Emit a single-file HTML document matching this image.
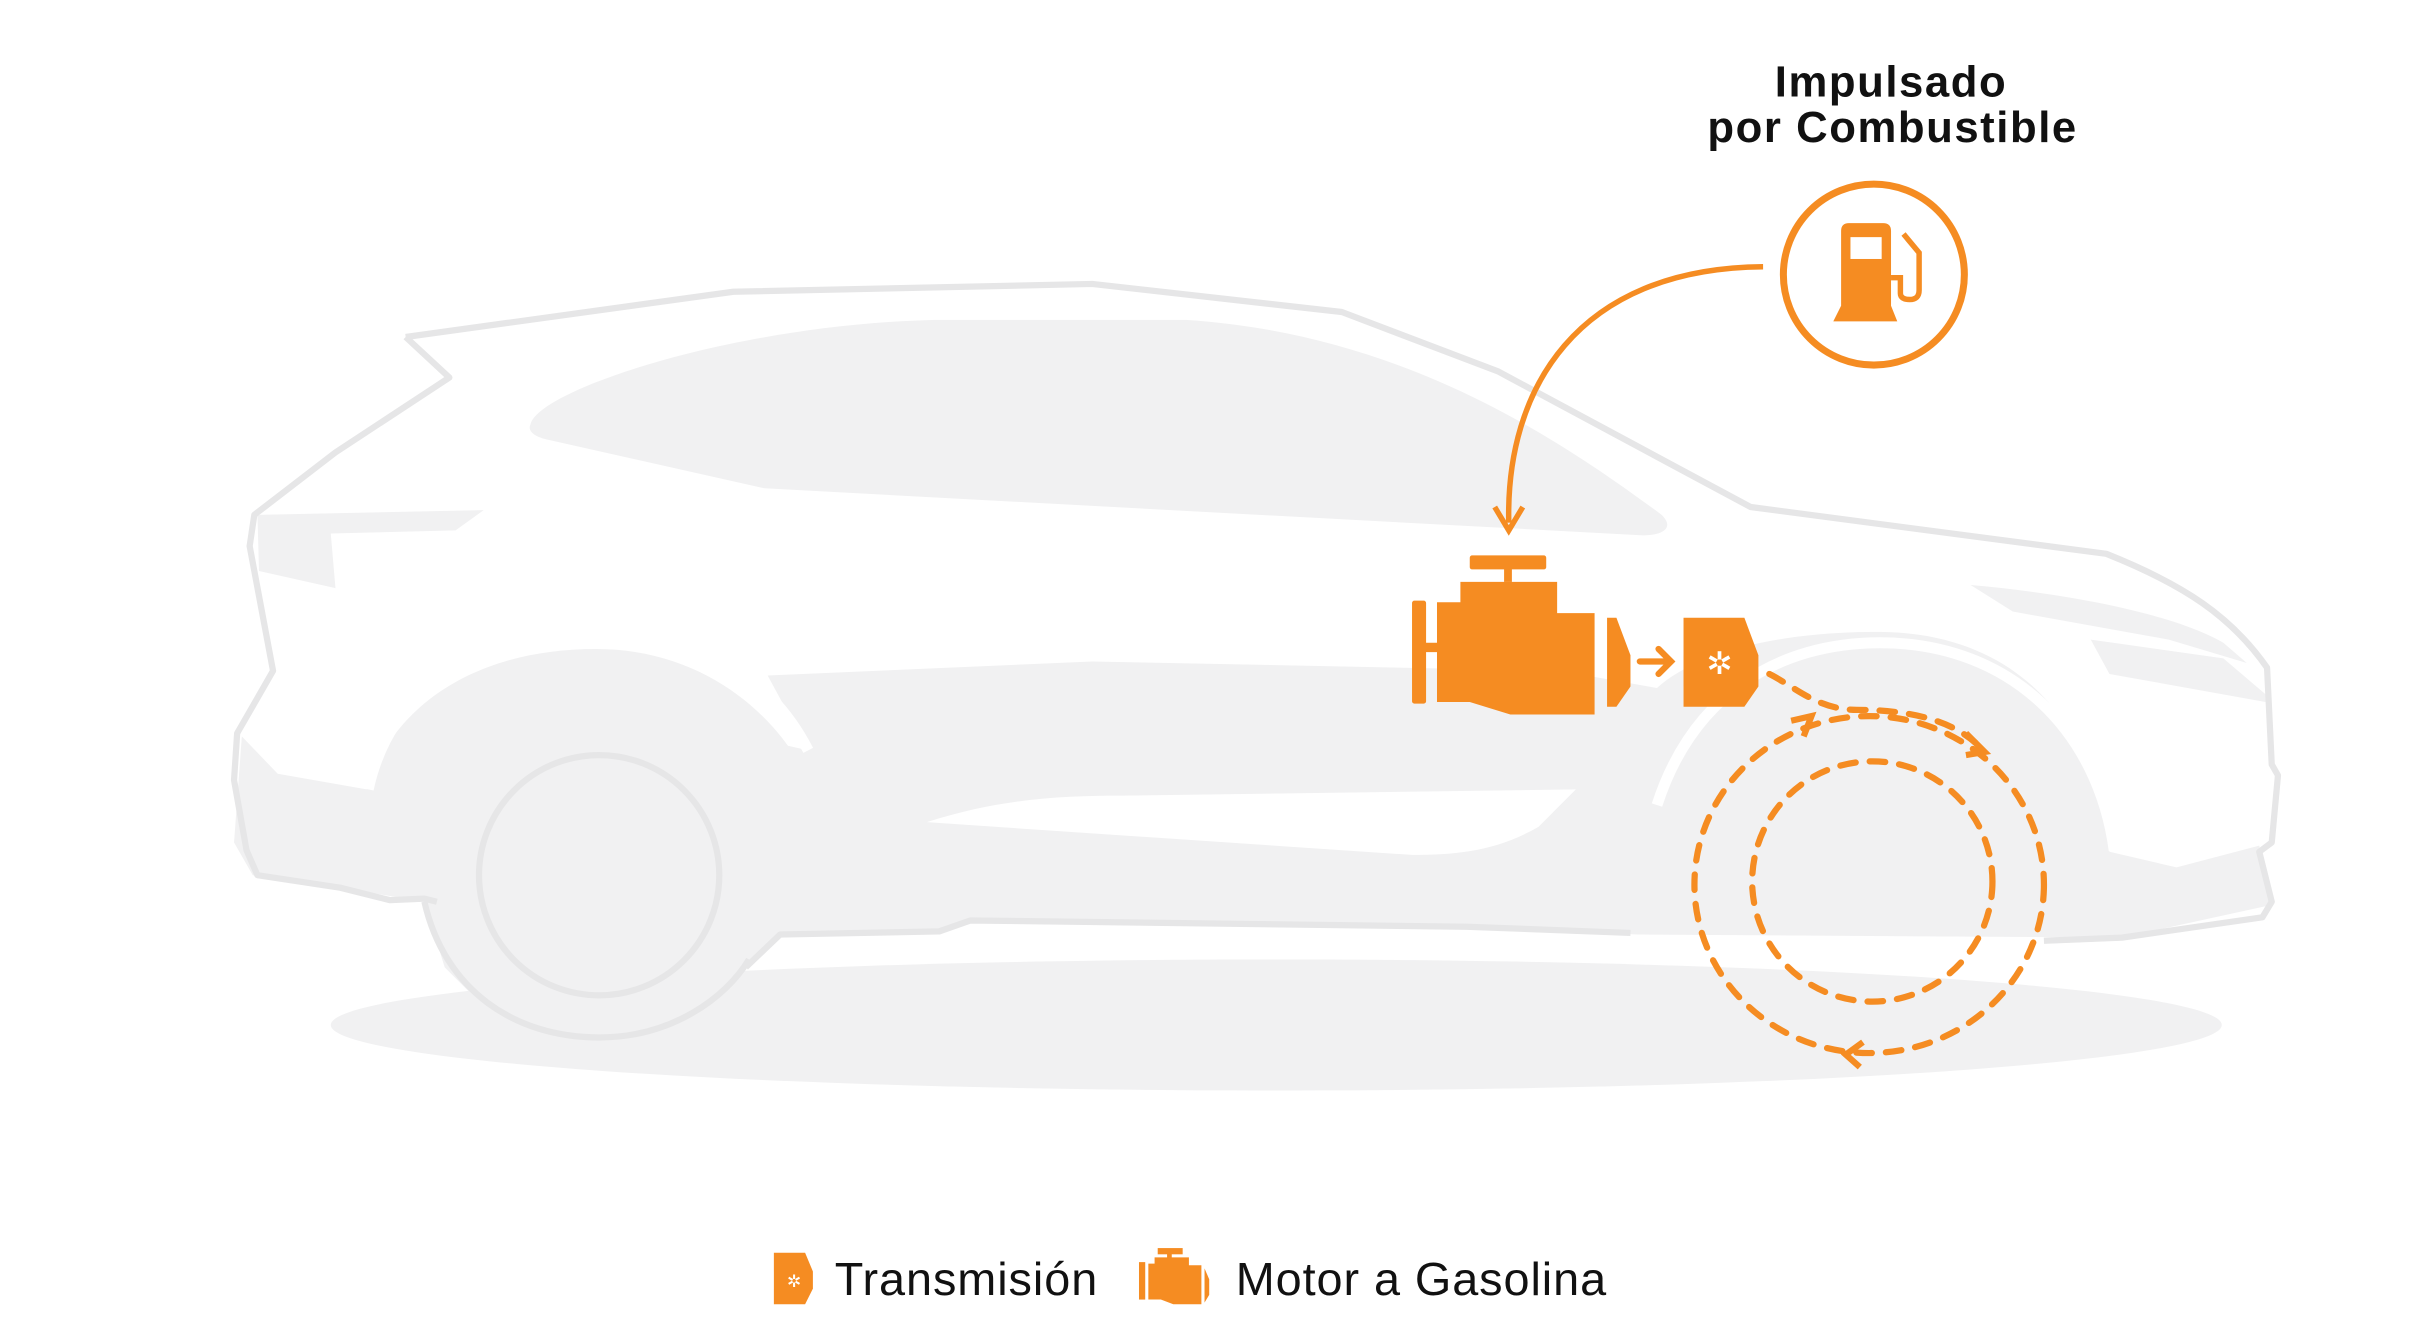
<!DOCTYPE html>
<html><head><meta charset="utf-8"><style>
html,body{margin:0;padding:0;background:#fff;}
svg{display:block;}
</style></head><body>
<svg width="2434" height="1337" viewBox="0 0 1560 857" preserveAspectRatio="none" xmlns="http://www.w3.org/2000/svg">
<rect width="1560" height="857" fill="#fff"/>
<ellipse cx="818" cy="657" rx="606" ry="42" fill="#f1f1f2"/>
<path d="M155,472 L178,496 L235,506 C252,452 305,416 382,416 C440,416 482,446 505,478 L518,481 L492,433 L700,424 L1000,430 L1062,441 C1085,420 1135,405 1203,405 C1292,405 1342,462 1352,546 L1395,556 L1448,542 L1456,580 L1360,601 L1050,599 L940,595 L622,590 L602,597 L500,599 L478,620 L440,655 L384,667 L320,655 L285,620 L272,578 L218,569 L162,561 L150,540 Z" fill="#f1f1f2"/>
<path d="M594,527 C640,512 680,510 720,510 L1010,506 L986,530 C960,545 935,548 905,548 Z" fill="#fff"/>
<path d="M1062,516 C1085,445 1140,412 1205,412 C1290,412 1345,470 1355,545" fill="none" stroke="#fff" stroke-width="7"/>
<path d="M236,506 C250,440 310,402 382,402 C440,402 492,430 518,481" fill="none" stroke="#fff" stroke-width="7"/>
<path d="M340,272 C345,250 470,208 600,205 L760,205 C900,214 1000,282 1065,330 C1075,340 1062,344 1050,343 L490,313 L352,282 C342,280 338,276 340,272 Z" fill="#f1f1f2"/>
<path d="M165,330 L310,327 L292,340 L212,342 L215,377 L166,366 Z" fill="#f1f1f2"/>
<path d="M1263,375 C1320,380 1390,392 1425,412 L1440,425 L1390,410 L1290,392 Z" fill="#f1f1f2"/>
<path d="M1340,410 L1425,422 L1452,445 L1452,450 L1352,432 Z" fill="#f1f1f2"/>
<path d="M260,216 L470,187 L700,182 L860,200 L960,238 L1122,325 L1350,355 C1400,375 1430,395 1453,428 L1456,490 L1460,497 L1456,540 L1448,546 L1456,578 L1450,588 L1360,601 L1310,603" fill="none" stroke="#e6e6e7" stroke-width="4" stroke-linejoin="round"/>
<path d="M1045,598 L940,594 L622,590 L602,597 L500,599 L478,620" fill="none" stroke="#e6e6e7" stroke-width="4" stroke-linejoin="round"/>
<path d="M280,578 L272,576 L250,577 L218,569 L165,561 L158,545 L150,500 L152,470 L175,430 L160,350 L163,330 L215,290 L288,242 L260,216" fill="none" stroke="#e6e6e7" stroke-width="4" stroke-linejoin="round"/>
<path d="M272,578 C285,635 330,665 384,665 C430,665 465,640 480,615" fill="none" stroke="#e6e6e7" stroke-width="4"/>
<circle cx="384" cy="561" r="77" fill="none" stroke="#e6e6e7" stroke-width="4"/>
<circle cx="1201" cy="176" r="58" fill="none" stroke="#f58c22" stroke-width="4.5"/>
<g fill="#f58c22">
<path d="M1180,148 Q1180,143 1185,143 L1207,143 Q1212,143 1212,148 L1212,196 L1216,206 L1175,206 L1180,196 Z"/>
<rect x="1186" y="152" width="20" height="14" fill="#fff"/>
</g>
<path d="M1212,178 L1218,178 L1218,188 Q1218,192 1224,192 Q1230,192 1230,186 L1230,162 L1220,150" fill="none" stroke="#f58c22" stroke-width="3.5"/>
<path d="M1130,171 C1010,172 965,250 967,335" fill="none" stroke="#f58c22" stroke-width="3.5"/>
<path d="M958,325 L967,340 L976,325" fill="none" stroke="#f58c22" stroke-width="3.5"/>
<g fill="#f58c22">
<rect x="905" y="385" width="9" height="66" rx="1.5"/>
<rect x="912" y="412" width="12" height="6"/>
<rect x="942" y="356" width="49" height="9" rx="1.5"/>
<rect x="964" y="364" width="5" height="9"/>
<path d="M921,386 L936,386 L936,373 L998,373 L998,393 L1022,393 L1022,458 L968,458 L942,450 L921,450 Z"/>
<path d="M1030,396 L1036,396 L1045,420 L1045,440 L1036,453 L1030,453 Z"/>
<path d="M1079,396 L1118,396 L1127,420 L1127,440 L1118,453 L1079,453 Z"/>
</g>
<path d="M1051,424 L1070,424 M1063,416 L1071,424 L1063,432" fill="none" stroke="#f58c22" stroke-width="4" stroke-linecap="round"/>
<text x="1102" y="432" font-family="DejaVu Sans, sans-serif" font-size="20" font-weight="bold" fill="#fff" text-anchor="middle">✲</text>
<g fill="none" stroke="#f58c22" stroke-width="4" stroke-linecap="round" stroke-dasharray="10 9">
<path d="M1134,432 C1150,440 1165,455 1190,455 C1225,455 1250,462 1266,476"/>
<ellipse cx="1198" cy="567" rx="112" ry="108"/>
<ellipse cx="1200" cy="565" rx="77" ry="77"/>
</g>
<path d="M1260,470 L1272,482 L1260,484" fill="none" stroke="#f58c22" stroke-width="4"/>
<path d="M1148,462 L1161,459 L1156,472" fill="none" stroke="#f58c22" stroke-width="4"/>
<path d="M1194,668 L1183,676 L1192,684" fill="none" stroke="#f58c22" stroke-width="4"/>
<g font-family="Liberation Sans, sans-serif" font-weight="bold" font-size="28" fill="#111" text-anchor="middle" letter-spacing="1">
<text x="1212" y="62">Impulsado</text>
<text x="1213" y="91">por Combustible</text>
</g>
<path d="M496,803 L516,803 L521,815 L521,826 L516,836 L496,836 Z" fill="#f58c22"/>
<text x="509" y="825" font-family="DejaVu Sans, sans-serif" font-size="11" font-weight="bold" fill="#fff" text-anchor="middle">✲</text>
<g fill="#f58c22">
<rect x="730" y="809" width="4" height="24"/>
<rect x="742" y="800" width="16" height="4"/>
<rect x="748" y="803" width="3" height="5"/>
<path d="M736,810 L740,810 L740,806 L762,806 L762,811 L770,811 L770,836 L752,836 L744,833 L736,833 Z"/>
<path d="M772,813 L775,820 L775,830 L772,835 Z"/>
</g>
<g font-family="Liberation Sans, sans-serif" font-size="30" fill="#111" letter-spacing="0.6">
<text x="535" y="830">Transmisión</text>
<text x="792" y="830">Motor a Gasolina</text>
</g>
</svg>
</body></html>
